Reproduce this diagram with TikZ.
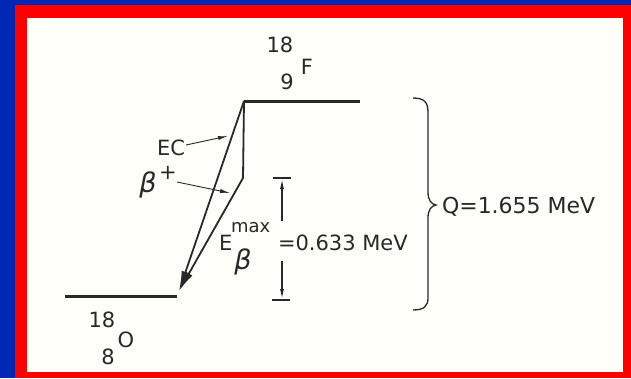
\documentclass[tikz,border=0pt]{standalone}
\usepackage{fontspec}
\setmainfont{DejaVu Sans}
\usetikzlibrary{arrows.meta}
\definecolor{bgblue}{RGB}{0,40,180}
\definecolor{frred}{RGB}{255,0,0}
\definecolor{paper}{RGB}{255,255,250}
\definecolor{ink}{RGB}{40,40,40}
\tikzset{
  level/.style={draw=ink,line width=3pt},
  trans/.style={draw=ink,line width=1.8pt,-{Latex[length=20pt,width=8pt]}},
  pointer/.style={draw=ink,line width=0.9pt,-{Latex[length=10pt,width=4pt]}},
  lbl/.style={inner sep=0pt,outer sep=0pt,text=ink,font=\fontsize{21}{21}\selectfont},
  small/.style={inner sep=0pt,outer sep=0pt,text=ink,font=\fontsize{18}{18}\selectfont},
  greek/.style={inner sep=0pt,outer sep=0pt,text=ink,font=\fontsize{27}{27}\selectfont\itshape},
}
\begin{document}
\begin{tikzpicture}[x=1pt,y=-1pt]
\useasboundingbox (0,0) rectangle (631,378);
\fill[bgblue] (0,0) rectangle (631,378);
\fill[frred] (15,5) rectangle (631,378);
\fill[paper] (27,18) rectangle (623,372);
% levels
\coordinate (Ftop) at (244,101);
\coordinate (Fend) at (360,101);
\coordinate (Ostart) at (65,296);
\coordinate (Oend) at (177,296);
\coordinate (kink) at (243,178);
\coordinate (tip) at (179,291);
\draw[level] (Ftop) -- (Fend);
\draw[level] (Ostart) -- (Oend);
% transitions
\draw[trans] (Ftop) -- (tip);
\draw[trans] (Ftop) -- (kink) -- (tip);
% nuclide labels
\node[lbl] (FA) at (280,45) {18};
\node[lbl] (FZ) at (287,82) {9};
\node[lbl] (FS) at (307,67) {F};
\node[lbl] (OA) at (102,320) {18};
\node[lbl] (OZ) at (108,357) {8};
\node[lbl] (OS) at (126,340) {O};
% EC and beta+ labels
\node[lbl,anchor=east] (EC) at (185,148) {EC};
\node[greek] (bp) at (148,185) {β};
\node[lbl] (bpp) at (168,173) {+};
\coordinate (ECt) at (228,136);
\coordinate (bpt) at (230,193);
\draw[pointer] (EC.east) ++(1,-3) coordinate (ECs) -- (ECt);
\draw[pointer] (177,182) coordinate (bps) -- (bpt);
% E beta max bar
\coordinate (t1) at (273,178);
\coordinate (t2) at (291,178);
\coordinate (b1) at (272,300);
\coordinate (b2) at (290,300);
\draw[draw=ink,line width=1.5pt] (t1) -- (t2);
\draw[draw=ink,line width=1.5pt] (b1) -- (b2);
\coordinate (upS) at (282,221);
\coordinate (upT) at (282,179);
\coordinate (dnS) at (282,261);
\coordinate (dnT) at (282,299);
\draw[pointer,line width=1.2pt] (upS) -- (upT);
\draw[pointer,line width=1.2pt] (dnS) -- (dnT);
\node[lbl,anchor=base west] (E) at (219,250) {E};
\node[small,anchor=base west] (max) at (231,232) {max};
\node[greek] (bsub) at (243,262) {β};
\node[lbl,anchor=base west] (val) at (278,250) {=0.633 MeV};
% brace and Q
\draw[ink,line width=1.3pt] (413,98) .. controls (424,98) and (428,102) .. (428,112) -- (428,192) .. controls (428,200) and (431,204) .. (436,205) .. controls (431,206) and (428,210) .. (428,218) -- (428,298) .. controls (428,306) and (424,310) .. (413,310);
\node[lbl,anchor=base west,font=\fontsize{22}{22}\selectfont] (Q) at (442,213) {Q=1.655 MeV};
\end{tikzpicture}
\end{document}
